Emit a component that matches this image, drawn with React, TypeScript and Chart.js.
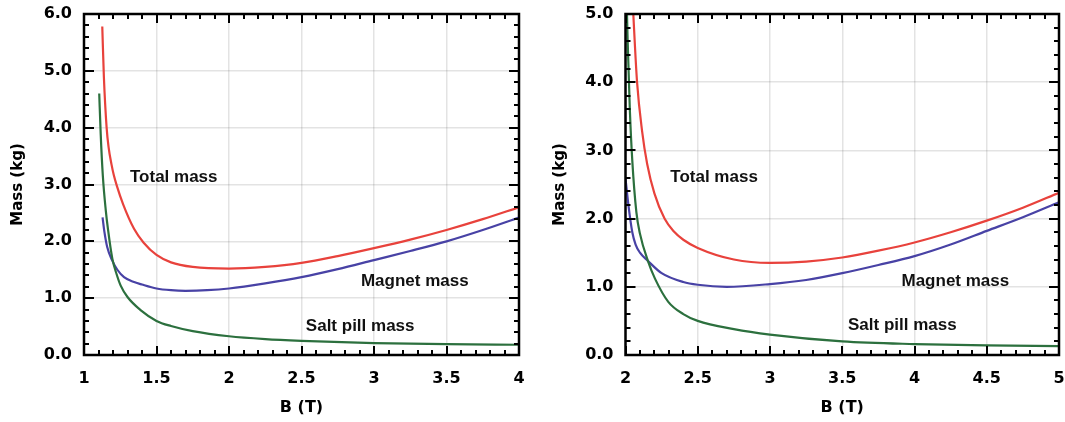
import React, { useEffect, useRef } from 'react';
import { Chart, registerables } from 'chart.js';

Chart.register(...registerables);

// ---------- Left panel (B from 1 to 4 T) ----------
const leftTotalB = [1.126, 1.137, 1.156, 1.17, 1.19, 1.205, 1.226, 1.27, 1.345, 1.41, 1.5, 1.6, 1.75, 2.0, 2.25, 2.5, 2.75, 3.0, 3.25, 3.5, 3.75, 4.0];
const leftTotalMass = [5.78, 4.9, 4.0, 3.65, 3.35, 3.17, 2.98, 2.65, 2.22, 1.98, 1.76, 1.63, 1.55, 1.52, 1.55, 1.62, 1.74, 1.88, 2.03, 2.2, 2.39, 2.6];
const leftMagnetB = [1.128, 1.14, 1.16, 1.195, 1.23, 1.276, 1.34, 1.4, 1.5, 1.6, 1.7, 1.85, 2.0, 2.25, 2.5, 2.75, 3.0, 3.25, 3.5, 3.75, 4.0];
const leftMagnetMass = [2.42, 2.18, 1.9, 1.66, 1.5, 1.37, 1.29, 1.24, 1.17, 1.14, 1.13, 1.14, 1.17, 1.26, 1.37, 1.51, 1.67, 1.83, 2.0, 2.2, 2.42];
const leftSaltB = [1.105, 1.115, 1.13, 1.15, 1.166, 1.195, 1.225, 1.253, 1.3, 1.39, 1.5, 1.6, 1.75, 2.0, 2.25, 2.5, 3.0, 3.5, 4.0];
const leftSaltMass = [4.6, 3.9, 3.15, 2.55, 2.2, 1.7, 1.42, 1.22, 1.02, 0.79, 0.6, 0.51, 0.42, 0.33, 0.28, 0.25, 0.21, 0.19, 0.18];

// ---------- Right panel (B from 2 to 5 T) ----------
const rightTotalB = [2.04, 2.054, 2.08, 2.115, 2.15, 2.2, 2.27, 2.335, 2.4, 2.5, 2.75, 3.0, 3.25, 3.5, 3.75, 4.0, 4.25, 4.5, 4.75, 5.0];
const rightTotalMass = [5.6, 5.0, 4.0, 3.28, 2.8, 2.37, 2.0, 1.81, 1.69, 1.57, 1.4, 1.35, 1.37, 1.43, 1.53, 1.65, 1.8, 1.97, 2.16, 2.38];
const rightMagnetB = [2.0, 2.02, 2.047, 2.07, 2.1, 2.155, 2.25, 2.4, 2.5, 2.7, 3.0, 3.25, 3.5, 3.75, 4.0, 4.25, 4.5, 4.75, 5.0];
const rightMagnetMass = [2.59, 2.2, 1.8, 1.62, 1.5, 1.38, 1.2, 1.07, 1.03, 1.0, 1.04, 1.1, 1.2, 1.32, 1.45, 1.62, 1.82, 2.02, 2.24];
const rightSaltB = [2.003, 2.015, 2.03, 2.047, 2.075, 2.1, 2.155, 2.204, 2.296, 2.4, 2.5, 2.75, 3.0, 3.5, 4.0, 4.5, 5.0];
const rightSaltMass = [5.6, 4.6, 3.6, 2.85, 2.1, 1.78, 1.38, 1.12, 0.78, 0.6, 0.5, 0.38, 0.3, 0.2, 0.16, 0.14, 0.13];

// ---------- Curve labels ----------
const curveLabels = ['Total mass', 'Magnet mass', 'Salt pill mass'];
const leftLabelB = [1.317, 2.91, 2.53];
const leftLabelMass = [3.13, 1.3, 0.51];
const rightLabelB = [2.31, 3.91, 3.54];
const rightLabelMass = [2.61, 1.08, 0.44];

// ---------- Axis ranges ----------
const leftXRange = [1, 4];
const rightXRange = [2, 5];
const leftYRange = [0, 6];
const rightYRange = [0, 5];

const RED = 'rgb(232, 66, 60)';
const BLUE = 'rgb(72, 66, 165)';
const GREEN = 'rgb(44, 112, 62)';
const TICK_FONT = '"DejaVu Sans", sans-serif';
const LABEL_FONT = '"Liberation Sans", Arial, sans-serif';

const toPoints = (xs: number[], ys: number[]) => xs.map((x, i) => ({ x, y: ys[i] }));

const framePlugin = {
  id: 'frameTicks',
  afterDatasetsDraw(chart: any) {
    const { ctx, chartArea: a, scales } = chart;
    const xs = scales.x;
    const ys = scales.y;
    const o = chart.options.plugins.frameTicks;
    ctx.save();
    ctx.strokeStyle = '#000';
    ctx.lineWidth = 2;
    ctx.lineCap = 'butt';
    const nx = Math.round((xs.max - xs.min) / o.xMinor);
    for (let i = 0; i <= nx; i++) {
      const v = xs.min + i * o.xMinor;
      const major = i % o.xPer === 0;
      const len = major ? 9 : 5;
      const px = Math.round(xs.getPixelForValue(v));
      ctx.beginPath();
      ctx.moveTo(px, a.bottom);
      ctx.lineTo(px, a.bottom - len);
      ctx.moveTo(px, a.top);
      ctx.lineTo(px, a.top + len);
      ctx.stroke();
    }
    const ny = Math.round((ys.max - ys.min) / o.yMinor);
    for (let i = 0; i <= ny; i++) {
      const v = ys.min + i * o.yMinor;
      const major = i % o.yPer === 0;
      const len = major ? 10 : 5;
      const py = Math.round(ys.getPixelForValue(v));
      ctx.beginPath();
      ctx.moveTo(a.left, py);
      ctx.lineTo(a.left + len, py);
      ctx.moveTo(a.right, py);
      ctx.lineTo(a.right - len, py);
      ctx.stroke();
    }
    ctx.lineWidth = 2.5;
    ctx.strokeRect(a.left, a.top, a.right - a.left, a.bottom - a.top);

    ctx.fillStyle = '#111';
    ctx.font = 'bold 17px ' + LABEL_FONT;
    ctx.textAlign = 'left';
    ctx.textBaseline = 'middle';
    o.labels.forEach((t: string, i: number) => {
      ctx.fillText(t, xs.getPixelForValue(o.labelX[i]), ys.getPixelForValue(o.labelY[i]));
    });
    ctx.restore();
  },
};

type PanelProps = {
  total: { x: number; y: number }[];
  magnet: { x: number; y: number }[];
  salt: { x: number; y: number }[];
  xRange: number[];
  yRange: number[];
  labelX: number[];
  labelY: number[];
  yAxisWidth: number;
  titlePad: number;
  rightPad: number;
};

function Panel(p: PanelProps) {
  const ref = useRef<HTMLCanvasElement | null>(null);
  useEffect(() => {
    if (!ref.current) return;
    const ds = (data: any, color: string) => ({
      data,
      borderColor: color,
      borderWidth: 2.2,
      pointRadius: 0,
      fill: false,
      cubicInterpolationMode: 'monotone' as const,
    });
    const chart = new Chart(ref.current, {
      type: 'line',
      data: {
        datasets: [ds(p.salt, GREEN), ds(p.magnet, BLUE), ds(p.total, RED)],
      },
      options: {
        animation: false,
        responsive: false,
        maintainAspectRatio: false,
        layout: { autoPadding: false, padding: { left: 0, top: 14, right: p.rightPad, bottom: 0 } },
        plugins: {
          legend: { display: false },
          tooltip: { enabled: false },
          frameTicks: {
            xMinor: 0.1,
            xPer: 5,
            yMinor: 0.2,
            yPer: 5,
            labels: curveLabels,
            labelX: p.labelX,
            labelY: p.labelY,
          },
        } as any,
        scales: {
          x: {
            type: 'linear',
            min: p.xRange[0],
            max: p.xRange[1],
            afterFit: (s: any) => {
              s.height = 67;
              s.paddingLeft = 0;
              s.paddingRight = 0;
            },
            border: { display: false },
            grid: { color: 'rgba(0,0,0,0.11)', lineWidth: 1.5, drawTicks: false },
            ticks: {
              stepSize: 0.5,
              padding: 14,
              color: '#000',
              font: { family: TICK_FONT, size: 16, weight: 'bold' },
              callback: (v: any) => String(Number(v)),
              maxRotation: 0,
            },
            title: {
              display: true,
              text: 'B (T)',
              color: '#000',
              font: { family: TICK_FONT, size: 16, weight: 'bold' },
              padding: { top: 0, bottom: 5 },
            },
          },
          y: {
            type: 'linear',
            min: p.yRange[0],
            max: p.yRange[1],
            afterFit: (s: any) => {
              s.width = p.yAxisWidth;
              s.paddingTop = 0;
              s.paddingBottom = 0;
            },
            border: { display: false },
            grid: { color: 'rgba(0,0,0,0.11)', lineWidth: 1.5, drawTicks: false },
            ticks: {
              stepSize: 1,
              padding: 12,
              color: '#000',
              font: { family: TICK_FONT, size: 16, weight: 'bold' },
              callback: (v: any) => Number(v).toFixed(1),
            },
            title: {
              display: true,
              text: 'Mass (kg)',
              color: '#000',
              font: { family: TICK_FONT, size: 15, weight: 'bold' },
              padding: { top: p.titlePad, bottom: 0 },
            },
          },
        },
      },
      plugins: [framePlugin],
    });
    return () => chart.destroy();
  }, []);
  return <canvas ref={ref} width={530} height={422} style={{ width: 530, height: 422, display: 'block' }} />;
}

export default function App() {
  return (
    <div style={{ position: 'fixed', left: 0, top: 0, width: 1065, height: 422, background: '#fff' }}>
      <div style={{ position: 'absolute', left: 0, top: 0 }}>
        <Panel
          total={toPoints(leftTotalB, leftTotalMass)}
          magnet={toPoints(leftMagnetB, leftMagnetMass)}
          salt={toPoints(leftSaltB, leftSaltMass)}
          xRange={leftXRange}
          yRange={leftYRange}
          labelX={leftLabelB}
          labelY={leftLabelMass}
          yAxisWidth={84}
          titlePad={9}
          rightPad={11}
        />
      </div>
      <div style={{ position: 'absolute', left: 535, top: 0 }}>
        <Panel
          total={toPoints(rightTotalB, rightTotalMass)}
          magnet={toPoints(rightMagnetB, rightMagnetMass)}
          salt={toPoints(rightSaltB, rightSaltMass)}
          xRange={rightXRange}
          yRange={rightYRange}
          labelX={rightLabelB}
          labelY={rightLabelMass}
          yAxisWidth={90.5}
          titlePad={16}
          rightPad={6}
        />
      </div>
    </div>
  );
}
